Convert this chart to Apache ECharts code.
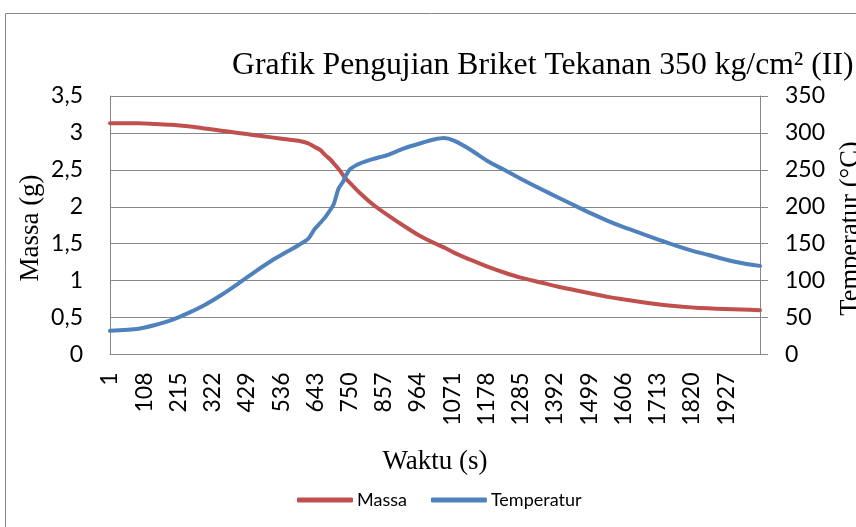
<!DOCTYPE html>
<html>
<head>
<meta charset="utf-8">
<script src="https://cdn.jsdelivr.net/npm/echarts@6/dist/echarts.min.js"></script>
<style>
  html, body { margin: 0; padding: 0; background: #fff; }
  #chart { width: 856px; height: 527px; }
</style>
</head>
<body>
<div id="chart"></div>
<script>
const waktu = [1, 90, 142, 193, 245, 297, 349, 402, 454, 506, 558, 590, 621, 641, 658, 674, 690, 700, 716, 731, 737, 752, 784, 826, 868, 920, 972, 1014, 1045, 1076, 1129, 1181, 1233, 1285, 1348, 1400, 1452, 1505, 1557, 1609, 1661, 1713, 1765, 1817, 1870, 1922, 1974, 2033];
// Massa (g)
const massa = [3.13, 3.13, 3.12, 3.11, 3.09, 3.06, 3.03, 3.00, 2.97, 2.94, 2.91, 2.895, 2.86, 2.81, 2.77, 2.70, 2.64, 2.59, 2.51, 2.42, 2.385, 2.32, 2.18, 2.02, 1.89, 1.74, 1.60, 1.51, 1.45, 1.38, 1.28, 1.19, 1.11, 1.04, 0.975, 0.92, 0.873, 0.825, 0.78, 0.745, 0.71, 0.68, 0.656, 0.638, 0.625, 0.615, 0.608, 0.60];
// Temperatur (°C)
const temperatur = [32, 35, 40, 46.5, 56, 67, 80.5, 96, 112, 127, 140, 148, 157, 170, 178, 186, 196, 203, 225, 235, 241, 251, 259, 265, 270, 279, 286, 291, 293, 289.5, 277, 262, 250, 238, 224, 213, 202, 191, 181, 172, 164, 156, 148, 141, 135, 129, 124, 120];

const xStep = 107;        // Excel label step
const xFirst = 1;
const xLast = 2033;

const titleText = 'Grafik Pengujian Briket Tekanan 350 kg/cm\u00B2 (II)';
const xName = 'Waktu (s)';
const yLeftName = 'Massa (g)';
const yRightName = 'Temperatur (\u00B0C)';

// x axis uses (waktu - 1) so ticks fall on 1, 108, 215, ...
const massaData = waktu.map((t, i) => [t - xFirst, massa[i]]);
const tempData = waktu.map((t, i) => [t - xFirst, temperatur[i]]);

const gray = '#878787';
const tickFont = 'Lato';
const serif = 'Liberation Serif';

const chart = echarts.init(document.getElementById('chart'), null, { renderer: 'canvas' });
chart.setOption({
  animation: false,
  backgroundColor: '#ffffff',
  title: {
    text: titleText,
    left: 232, top: 50, padding: 0,
    textStyle: { fontFamily: serif, fontSize: 31.7, fontWeight: 'normal', color: '#000' }
  },
  graphic: [{
    type: 'rect', shape: { x: 5.5, y: 13.5, width: 900, height: 600 },
    style: { fill: null, stroke: gray, lineWidth: 1 }, silent: true
  }, {
    type: 'text', x: 31, y: 228, rotation: Math.PI / 2, silent: true,
    style: { text: yLeftName, fontFamily: serif, fontSize: 27, fill: '#000', align: 'center', verticalAlign: 'middle' }
  }, {
    type: 'text', x: 851, y: 228.5, rotation: Math.PI / 2, silent: true,
    style: { text: yRightName, fontFamily: serif, fontSize: 26.5, fill: '#000', align: 'center', verticalAlign: 'middle' }
  }],
  legend: {
    bottom: 18, left: 297, padding: 0,
    itemWidth: 56, itemHeight: 5, itemGap: 24,
    icon: 'roundRect',
    textStyle: { fontFamily: tickFont, fontSize: 18, color: '#000', padding: [0, 0, 0, -1] },
    data: ['Massa', 'Temperatur']
  },
  grid: { left: 110, right: 96, top: 96, bottom: 172.5, containLabel: false, outerBoundsMode: 'none' },
  xAxis: {
    type: 'value', min: 0, max: xLast - xFirst, interval: xStep,
    name: xName, nameLocation: 'middle', nameGap: 94,
    nameTextStyle: { fontFamily: serif, fontSize: 27, color: '#000' },
    axisLine: { show: true, lineStyle: { color: gray, width: 1 } },
    axisTick: { show: false },
    splitLine: { show: false },
    axisLabel: {
      rotate: 90, margin: 18, showMaxLabel: false,
      fontFamily: tickFont, fontSize: 23, color: '#000',
      formatter: v => (v % xStep === 0 ? String(v + xFirst) : '')
    }
  },
  yAxis: [{
    type: 'value', min: 0, max: 3.5, interval: 0.5, position: 'left',
    axisLine: { show: true, lineStyle: { color: gray, width: 1 } },
    axisTick: { show: false },
    splitLine: { show: true, lineStyle: { color: gray, width: 1 } },
    axisLabel: {
      margin: 27, fontFamily: tickFont, fontSize: 23, color: '#000',
      formatter: v => String(v).replace('.', ',')
    }
  }, {
    type: 'value', min: 0, max: 350, interval: 50, position: 'right',
    axisLine: { show: true, lineStyle: { color: gray, width: 1 } },
    axisTick: { show: true, inside: false, length: 8, lineStyle: { color: gray, width: 1 } },
    splitLine: { show: false },
    axisLabel: { margin: 25, fontFamily: tickFont, fontSize: 23, color: '#000' }
  }],
  series: [{
    name: 'Massa', type: 'line', yAxisIndex: 0, data: massaData,
    showSymbol: false, symbol: 'none', smooth: 0.25,
    lineStyle: { color: '#C0504D', width: 4, cap: 'round', join: 'round' },
    itemStyle: { color: '#C0504D' }
  }, {
    name: 'Temperatur', type: 'line', yAxisIndex: 1, data: tempData,
    showSymbol: false, symbol: 'none', smooth: 0.25,
    lineStyle: { color: '#4F81BD', width: 4, cap: 'round', join: 'round' },
    itemStyle: { color: '#4F81BD' }
  }]
});
</script>
</body>
</html>
